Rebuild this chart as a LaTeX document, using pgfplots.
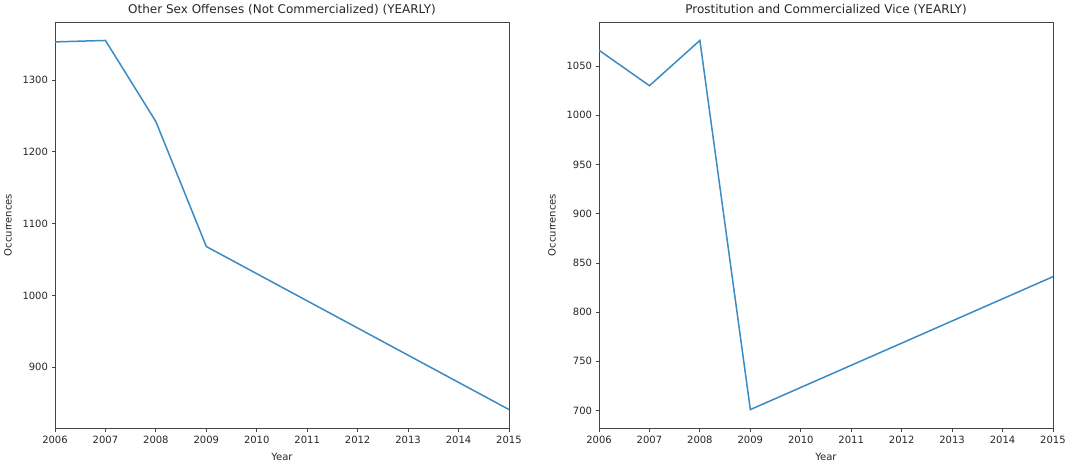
\documentclass[border=0pt]{standalone}
\usepackage{pgfplots}
\pgfplotsset{compat=1.18}
\usepackage{fontspec}
\setmainfont{DejaVu Sans}
\definecolor{mplblue}{HTML}{3A8AC4}
\definecolor{spine}{HTML}{444444}
\definecolor{txt}{HTML}{262626}

\pgfplotsset{
  yearly/.style={
    scale only axis, width=454pt, height=406pt,
    xmin=2006, xmax=2015, xtick={2006,...,2015},
    /pgf/number format/1000 sep={},
    /pgf/number format/assume math mode=true,
    axis line style={spine, line width=0.8pt},
    tick style={spine, line width=0.8pt},
    major tick length=3.5pt,
    tick align=outside, tick pos=left,
    ticklabel style={font=\fontsize{10}{12}\selectfont, text=txt},
    xticklabel style={yshift=-1pt},
    xlabel=Year, ylabel=Occurrences,
    xlabel style={at={(axis description cs:0.5,0)}, anchor=center, yshift=-29pt,
                  font=\fontsize{10}{12}\selectfont, text=txt},
    ylabel style={at={([xshift=-47pt]axis description cs:0,0.5)}, anchor=center,
                  font=\fontsize{10}{12}\selectfont, text=txt},
    title style={at={(axis description cs:0.5,1)}, anchor=center, yshift=6pt,
                 font=\fontsize{12}{14}\selectfont, text=txt},
  }
}

\begin{document}
\begin{tikzpicture}[x=1pt,y=1pt]
\useasboundingbox (0,0) rectangle (1076,469);
\begin{axis}[yearly, at={(55pt,41pt)}, anchor=south west,
    ymin=815.3, ymax=1380.7, ytick={900,1000,1100,1200,1300},
    title={Other Sex Offenses (Not Commercialized) (YEARLY)}]
\addplot[mplblue, line width=1.5pt] coordinates {
  (2006,1353) (2007,1355) (2008,1242) (2009,1068) (2015,841)
};
\end{axis}
\begin{axis}[yearly, at={(599pt,41pt)}, anchor=south west,
    ymin=682.3, ymax=1094.7, ytick={700,750,...,1050},
    title={Prostitution and Commercialized Vice (YEARLY)}]
\addplot[mplblue, line width=1.5pt] coordinates {
  (2006,1066) (2007,1030) (2008,1076) (2009,701) (2015,836)
};
\end{axis}
\end{tikzpicture}
\end{document}
